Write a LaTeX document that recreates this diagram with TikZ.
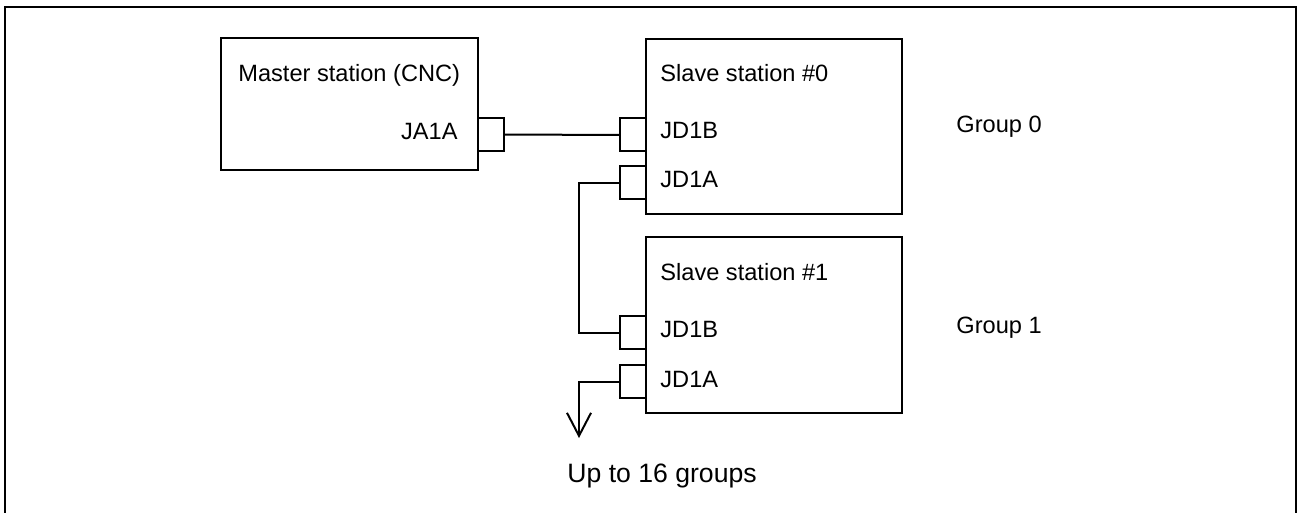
\documentclass[tikz,border=0pt]{standalone}
\usepackage{fontspec}
\setmainfont{Liberation Sans}
\usetikzlibrary{arrows.meta}
\tikzset{
    stationbox/.style={rectangle, draw=black, line width=1pt, inner sep=0pt},
    plug/.style={rectangle, draw=black, line width=1pt, fill=white, minimum width=13pt, minimum height=16.5pt, inner sep=0pt},
    txt/.style={font=\fontsize{11.8}{14}\selectfont, inner sep=0pt},
    cable/.style={line width=1pt, color=black},
}

\begin{document}
\begin{tikzpicture}[x=0.5pt, y=-0.5pt]
    \useasboundingbox (0,0) rectangle (1300,513);

    % Cornice esterna
    \draw[line width=1pt] (5,520) -- (5,7) -- (1296,7) -- (1296,520);

    % Stazione master
    \node[stationbox, minimum width=128.5pt, minimum height=66pt] (master) at (349.5,104) {};
    \node[txt, anchor=base west] (mastertxt) at (238,82) {Master station (CNC)};
    \node[txt, anchor=base east] (ja1atxt) at (458,140) {JA1A};
    \node[plug] (ja1a) at (490.5,134.5) {};

    % Stazione slave #0
    \node[stationbox, minimum width=128pt, minimum height=87.5pt] (slave0) at (774,126.5) {};
    \node[txt, anchor=base west] (slave0txt) at (660,82) {Slave station \#0};
    \node[txt, anchor=base west] (s0jd1btxt) at (660,139) {JD1B};
    \node[txt, anchor=base west] (s0jd1atxt) at (660,188) {JD1A};
    \node[plug] (s0jd1b) at (633,135) {};
    \node[plug] (s0jd1a) at (633,183) {};
    \node[txt, anchor=base west] (group0) at (956,133) {Group 0};

    % Stazione slave #1
    \node[stationbox, minimum width=128pt, minimum height=88pt] (slave1) at (774,325) {};
    \node[txt, anchor=base west] (slave1txt) at (660,280) {Slave station \#1};
    \node[txt, anchor=base west] (s1jd1btxt) at (660,337) {JD1B};
    \node[txt, anchor=base west] (s1jd1atxt) at (660,387) {JD1A};
    \node[plug] (s1jd1b) at (633,332.5) {};
    \node[plug] (s1jd1a) at (633,381.5) {};
    \node[txt, anchor=base west] (group1) at (956,333) {Group 1};

    % Cavi
    \draw[cable] (ja1a.east) -- (s0jd1b.west);
    \draw[cable] (s0jd1a.west) -- (579,183) |- (s1jd1b.west);
    \coordinate (nextgrp) at (579,438);
    \draw[cable, -{Straight Barb[length=11.5pt, width=12pt]}] (s1jd1a.west) -| (nextgrp);

    % Nota
    \node[txt, font=\fontsize{13.3}{16}\selectfont, anchor=base west] (uptotxt) at (567,482) {Up to 16 groups};
\end{tikzpicture}
\end{document}
